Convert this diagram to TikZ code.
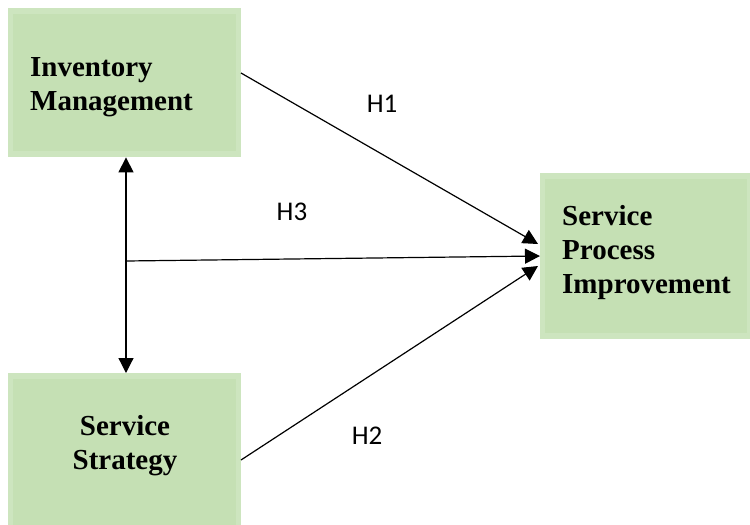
\documentclass[tikz,border=0pt]{standalone}
\usepackage{fontspec}
\setmainfont{Liberation Serif}
\newfontfamily\labelfont{Carlito}
\usetikzlibrary{arrows.meta}
\definecolor{boxedge}{HTML}{CDE5BF}
\definecolor{boxgreen}{HTML}{C5E0B4}
\tikzset{
  varbox/.style={draw=none, fill=boxedge, inner sep=0pt, anchor=north west,
    path picture={\fill[boxgreen]
      ([shift={(5pt,-6pt)}]path picture bounding box.north west) rectangle
      ([shift={(-5pt,6pt)}]path picture bounding box.south east);}},
  boxtext/.style={inner sep=0pt, font=\fontsize{29}{34}\selectfont\bfseries},
  hyp/.style={inner sep=0pt, font=\labelfont\fontsize{27}{32}\selectfont},
  link/.style={line width=1.2pt, -{Triangle[length=15pt,width=15pt]}},
  both/.style={line width=1.2pt, {Triangle[length=15pt,width=15pt]}-{Triangle[length=15pt,width=15pt]}},
}
\begin{document}
\begin{tikzpicture}[x=1pt,y=-1pt]
\useasboundingbox (0,0) rectangle (750,525);
% construct boxes
\node[varbox, minimum width=233pt, minimum height=149pt] (im) at (8,8) {};
\node[varbox, minimum width=212pt, minimum height=166pt] (spi) at (540,173) {};
\node[varbox, minimum width=233pt, minimum height=160pt] (ss) at (8,373) {};
% box captions
\node[boxtext, anchor=north west, align=left] (imtext) at (30,57) {Inventory\\Management};
\node[boxtext, anchor=north west, align=left] (spitext) at (562,205) {Service\\Process\\Improvement};
\node[boxtext, anchor=north, align=center] (sstext) at (125,415) {Service\\Strategy};
% joint point of the correlated predictors
\coordinate (mid) at (126,261);
\coordinate (imr) at (241,73);
\coordinate (ssr) at (241,460);
\coordinate (t1) at (538,244);
\coordinate (t3) at (540,256);
\coordinate (t2) at (538,266);
% paths
\draw[link] (imr) -- (t1);
\draw[link] (mid) -- (t3);
\draw[link] (ssr) -- (t2);
\draw[both] (im.south -| mid) -- (ss.north -| mid);
% hypothesis labels
\node[hyp] (h1) at (382,104) {H1};
\node[hyp] (h3) at (292,212) {H3};
\node[hyp] (h2) at (367,436) {H2};
\end{tikzpicture}
\end{document}
